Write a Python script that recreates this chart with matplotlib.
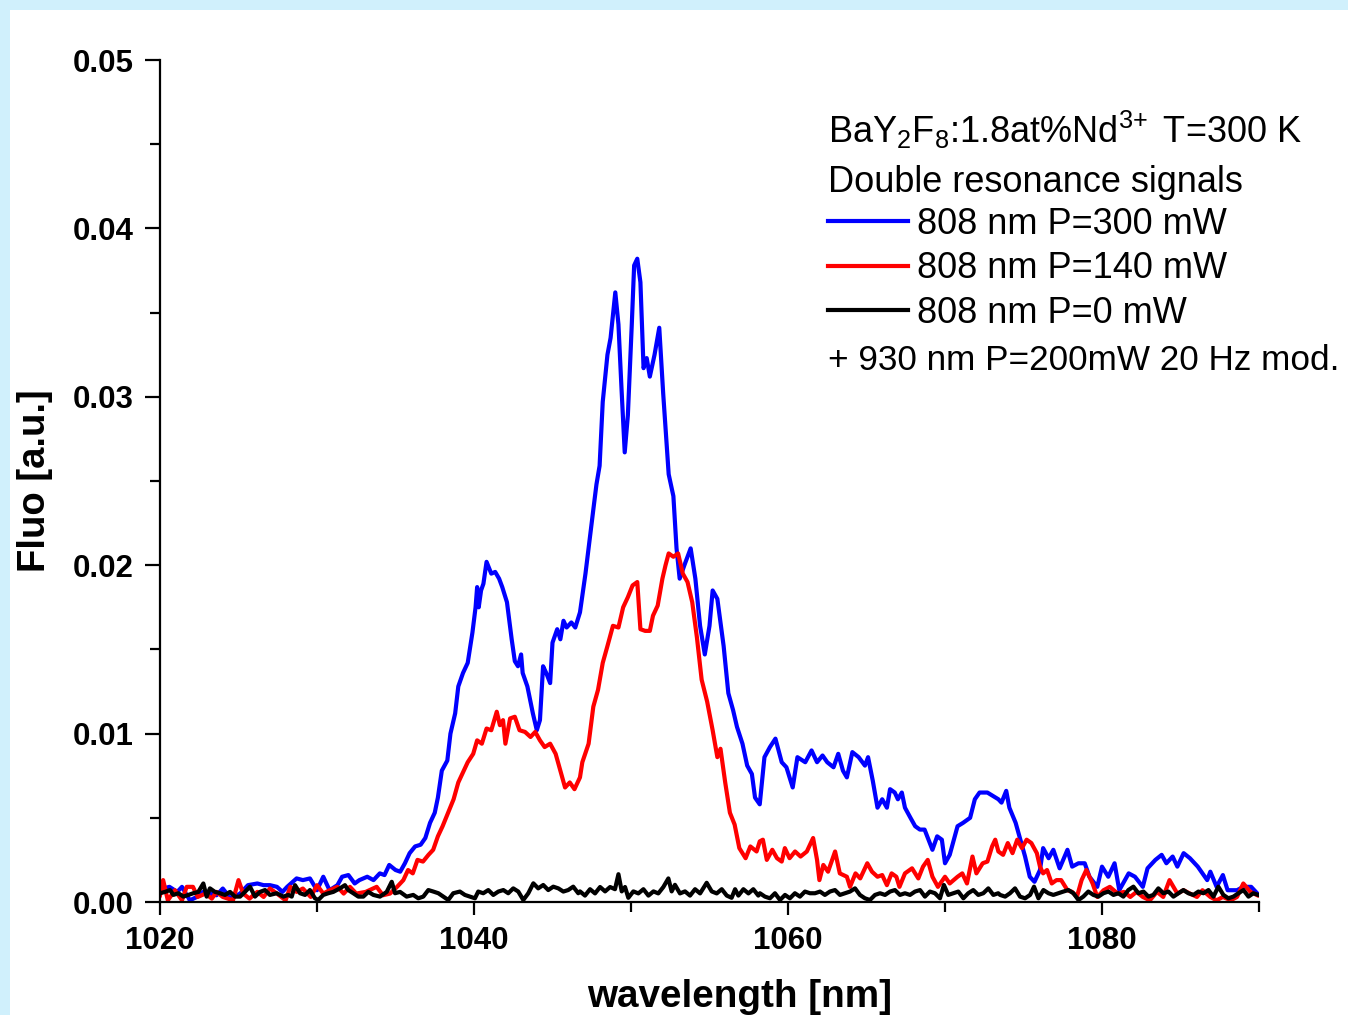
import numpy as np
import matplotlib.pyplot as plt
from matplotlib.patches import Rectangle
from matplotlib.ticker import MultipleLocator

plt.rcParams['font.family'] = ['Liberation Sans', 'DejaVu Sans']
plt.rcParams['mathtext.fontset'] = 'custom'
plt.rcParams['mathtext.rm'] = 'Liberation Sans'
plt.rcParams['mathtext.it'] = 'Liberation Sans:italic'
plt.rcParams['mathtext.bf'] = 'Liberation Sans:bold'

# fluorescence spectra, wavelength in nm, signal in units of 1e-3 a.u.
wl_300 = [1020.0, 1020.2, 1020.6, 1021.1, 1021.4, 1021.9, 1022.35, 1022.75, 1023.2, 1023.6,
          1024.0, 1024.5, 1025.1, 1025.6, 1026.2, 1026.6, 1027.0, 1027.45, 1027.8, 1028.1,
          1028.7, 1029.1, 1029.55, 1030.0, 1030.4, 1030.8, 1031.3, 1031.6, 1032.0, 1032.4,
          1032.7, 1033.2, 1033.6, 1034.0, 1034.3, 1034.6, 1035.0, 1035.3, 1035.6, 1035.9,
          1036.25, 1036.6, 1036.9, 1037.2, 1037.5, 1037.7, 1037.95, 1038.3, 1038.5, 1038.8,
          1039.0, 1039.3, 1039.6, 1039.9, 1040.1, 1040.2, 1040.3, 1040.45, 1040.6, 1040.8,
          1041.1, 1041.35, 1041.6, 1041.8, 1042.1, 1042.4, 1042.6, 1042.8, 1043.0, 1043.1,
          1043.4, 1043.75, 1044.0, 1044.2, 1044.4, 1044.6, 1044.85, 1045.0, 1045.3, 1045.5,
          1045.7, 1045.9, 1046.2, 1046.45, 1046.75, 1047.1, 1047.4, 1047.6, 1047.8, 1048.0,
          1048.2, 1048.5, 1048.7, 1049.0, 1049.2, 1049.4, 1049.6, 1049.8, 1050.05, 1050.2,
          1050.4, 1050.6, 1050.8, 1051.0, 1051.2, 1051.5, 1051.8, 1052.05, 1052.4, 1052.7,
          1052.9, 1053.1, 1053.4, 1053.8, 1054.1, 1054.4, 1054.7, 1055.0, 1055.2, 1055.5,
          1055.9, 1056.2, 1056.5, 1056.75, 1057.1, 1057.4, 1057.7, 1057.9, 1058.2, 1058.5,
          1058.85, 1059.2, 1059.6, 1059.9, 1060.3, 1060.6, 1061.1, 1061.5, 1061.85, 1062.2,
          1062.5, 1062.9, 1063.2, 1063.5, 1063.75, 1064.1, 1064.5, 1064.9, 1065.1, 1065.4,
          1065.7, 1066.0, 1066.3, 1066.5, 1066.8, 1067.0, 1067.25, 1067.45, 1067.8, 1068.1,
          1068.4, 1068.7, 1069.2, 1069.5, 1069.8, 1070.0, 1070.3, 1070.8, 1071.15, 1071.6,
          1071.9, 1072.2, 1072.7, 1073.05, 1073.4, 1073.6, 1073.9, 1074.1, 1074.5, 1074.8,
          1075.1, 1075.4, 1075.7, 1076.05, 1076.25, 1076.6, 1076.9, 1077.3, 1077.8, 1078.1,
          1078.5, 1078.9, 1079.2, 1079.7, 1080.0, 1080.4, 1080.8, 1081.1, 1081.7, 1082.1,
          1082.6, 1082.9, 1083.4, 1083.8, 1084.1, 1084.5, 1084.8, 1085.2, 1085.6, 1086.1,
          1086.7, 1086.9, 1087.3, 1087.7, 1088.0, 1088.6, 1089.0, 1089.5, 1089.9]
fluo_300 = [0.6, 0.8, 0.9, 0.6, 0.9, 0.1, 0.3, 0.6, 0.5, 0.4,
            0.8, 0.2, 0.5, 1.0, 1.1, 1.0, 1.0, 0.9, 0.6, 0.9,
            1.4, 1.3, 1.4, 0.7, 1.5, 0.7, 1.0, 1.5, 1.6, 1.1,
            1.3, 1.5, 1.3, 1.7, 1.6, 2.2, 1.9, 1.8, 2.3, 2.9,
            3.3, 3.4, 3.8, 4.7, 5.3, 6.2, 7.8, 8.4, 10.0, 11.2,
            12.8, 13.6, 14.2, 16.0, 17.5, 18.7, 17.5, 18.5, 18.9, 20.2,
            19.5, 19.6, 19.2, 18.7, 17.8, 15.6, 14.3, 14.0, 14.7, 13.6,
            12.8, 11.2, 10.2, 10.8, 14.0, 13.6, 13.0, 15.4, 16.2, 15.6,
            16.7, 16.3, 16.6, 16.3, 17.2, 19.5, 21.8, 23.3, 24.8, 25.9,
            29.7, 32.5, 33.5, 36.2, 34.3, 30.4, 26.7, 28.9, 34.3, 37.8,
            38.2, 36.8, 31.7, 32.3, 31.2, 32.5, 34.1, 30.2, 25.4, 24.1,
            21.0, 19.2, 20.0, 21.0, 19.2, 16.4, 14.7, 16.4, 18.5, 18.0,
            15.2, 12.4, 11.4, 10.4, 9.4, 8.1, 7.6, 6.2, 5.8, 8.6,
            9.2, 9.7, 8.3, 8.0, 6.8, 8.6, 8.3, 9.0, 8.3, 8.7,
            8.3, 8.0, 8.8, 7.8, 7.4, 8.9, 8.6, 8.1, 8.6, 7.2,
            5.6, 6.1, 5.6, 6.7, 6.5, 6.1, 6.5, 5.6, 5.0, 4.5,
            4.3, 4.3, 3.1, 3.9, 3.7, 2.3, 2.8, 4.5, 4.7, 5.0,
            6.1, 6.5, 6.5, 6.3, 6.1, 5.9, 6.6, 5.6, 4.7, 3.7,
            2.7, 1.5, 1.2, 1.9, 3.2, 2.6, 3.1, 2.0, 3.1, 2.1,
            2.3, 2.3, 1.5, 0.9, 2.1, 1.5, 2.3, 0.7, 1.7, 1.5,
            0.9, 2.0, 2.5, 2.8, 2.3, 2.7, 2.1, 2.9, 2.6, 2.1,
            1.3, 1.8, 0.9, 1.6, 0.7, 0.7, 0.9, 0.9, 0.5]

wl_140 = [1020.0, 1020.2, 1020.5, 1020.95, 1021.4, 1021.7, 1022.1, 1022.4, 1022.9, 1023.3,
          1023.6, 1024.0, 1024.65, 1025.0, 1025.3, 1025.7, 1026.2, 1026.6, 1027.0, 1027.45,
          1028.0, 1028.3, 1028.7, 1029.1, 1029.6, 1030.0, 1030.4, 1030.8, 1031.3, 1031.7,
          1032.1, 1032.5, 1033.1, 1033.8, 1034.2, 1034.65, 1035.1, 1035.5, 1035.8, 1036.1,
          1036.4, 1036.75, 1037.1, 1037.4, 1037.7, 1038.0, 1038.35, 1038.7, 1039.0, 1039.3,
          1039.6, 1039.95, 1040.2, 1040.5, 1040.8, 1041.1, 1041.45, 1041.65, 1041.85, 1042.0,
          1042.3, 1042.6, 1042.9, 1043.25, 1043.6, 1043.9, 1044.2, 1044.5, 1044.85, 1045.2,
          1045.5, 1045.8, 1046.1, 1046.4, 1046.75, 1046.9, 1047.3, 1047.6, 1047.9, 1048.2,
          1048.5, 1048.85, 1049.2, 1049.5, 1049.8, 1050.1, 1050.4, 1050.6, 1050.9, 1051.2,
          1051.4, 1051.7, 1052.0, 1052.2, 1052.4, 1052.7, 1053.0, 1053.3, 1053.6, 1053.9,
          1054.2, 1054.5, 1054.85, 1055.2, 1055.5, 1055.7, 1056.0, 1056.3, 1056.6, 1056.9,
          1057.3, 1057.6, 1058.0, 1058.2, 1058.4, 1058.65, 1059.0, 1059.3, 1059.6, 1059.8,
          1060.1, 1060.45, 1060.8, 1061.2, 1061.6, 1061.85, 1062.0, 1062.25, 1062.55, 1063.0,
          1063.3, 1063.75, 1063.95, 1064.3, 1064.6, 1065.05, 1065.35, 1065.7, 1066.0, 1066.3,
          1066.6, 1066.9, 1067.1, 1067.45, 1067.9, 1068.3, 1068.6, 1068.9, 1069.2, 1069.55,
          1070.0, 1070.3, 1070.8, 1071.1, 1071.4, 1071.75, 1072.0, 1072.4, 1072.7, 1073.0,
          1073.2, 1073.4, 1073.7, 1074.0, 1074.3, 1074.6, 1074.9, 1075.2, 1075.5, 1075.85,
          1076.05, 1076.25, 1076.5, 1076.8, 1077.1, 1077.4, 1077.8, 1078.1, 1078.4, 1078.7,
          1079.0, 1079.4, 1079.7, 1080.1, 1080.5, 1081.0, 1081.4, 1081.8, 1082.2, 1082.6,
          1083.05, 1083.5, 1083.9, 1084.3, 1084.8, 1085.2, 1085.6, 1086.05, 1086.4, 1086.9,
          1087.3, 1087.7, 1088.2, 1088.6, 1089.0, 1089.45, 1089.9]
fluo_140 = [0.4, 1.3, 0.1, 0.7, 0.1, 0.9, 0.9, 0.3, 0.5, 0.2,
            0.6, 0.3, 0.1, 1.3, 0.5, 0.2, 0.6, 0.3, 0.8, 0.5,
            0.1, 0.9, 0.6, 0.8, 0.3, 1.0, 0.5, 0.7, 0.9, 0.5,
            0.9, 0.5, 0.6, 0.9, 0.4, 0.5, 0.9, 1.3, 1.9, 1.7,
            2.5, 2.4, 2.8, 3.1, 3.9, 4.5, 5.3, 6.1, 7.1, 7.7,
            8.3, 8.8, 9.6, 9.4, 10.3, 10.2, 11.3, 10.5, 10.8, 9.4,
            10.9, 11.0, 10.2, 10.1, 9.8, 10.1, 9.6, 9.2, 9.4, 8.8,
            7.8, 6.8, 7.1, 6.7, 7.4, 8.3, 9.4, 11.6, 12.6, 14.2,
            15.2, 16.4, 16.3, 17.5, 18.1, 18.8, 19.0, 16.2, 16.1, 16.1,
            17.0, 17.6, 19.2, 20.0, 20.7, 20.5, 20.7, 19.5, 19.0, 17.8,
            15.7, 13.2, 11.9, 10.2, 8.6, 9.1, 7.1, 5.3, 4.6, 3.2,
            2.6, 3.3, 3.0, 3.6, 3.7, 2.5, 3.1, 2.6, 2.4, 3.2,
            2.6, 3.0, 2.7, 3.0, 3.8, 2.5, 1.3, 2.2, 1.8, 3.0,
            1.7, 1.5, 0.9, 1.7, 1.4, 2.3, 1.8, 1.5, 1.6, 1.0,
            1.7, 1.5, 0.9, 1.7, 2.0, 1.4, 2.1, 2.5, 1.5, 0.9,
            1.5, 1.1, 1.5, 1.7, 1.1, 2.7, 1.7, 2.3, 2.4, 3.3,
            3.7, 3.0, 2.8, 3.5, 2.9, 3.7, 3.2, 3.7, 3.5, 2.9,
            2.1, 1.7, 1.9, 1.1, 1.3, 1.3, 0.7, 0.6, 0.3, 1.3,
            1.9, 1.1, 0.3, 0.7, 0.9, 0.5, 0.6, 0.3, 0.6, 0.3,
            0.1, 0.6, 0.3, 1.3, 0.5, 0.7, 0.5, 0.3, 0.7, 0.3,
            0.1, 0.3, 0.1, 0.3, 1.1, 0.6, 0.4]

wl_0 = [1020.0, 1020.32, 1020.64, 1020.85, 1021.17, 1021.49, 1021.8, 1022.12, 1022.44, 1022.76,
        1022.97, 1023.18, 1023.5, 1023.82, 1024.14, 1024.46, 1024.78, 1025.1, 1025.41, 1025.73,
        1026.05, 1026.37, 1026.69, 1027.0, 1027.43, 1027.86, 1028.17, 1028.39, 1028.6, 1028.92,
        1029.24, 1029.55, 1029.87, 1030.08, 1030.4, 1030.72, 1031.04, 1031.46, 1031.78, 1031.99,
        1032.31, 1032.63, 1032.95, 1033.27, 1033.59, 1034.01, 1034.44, 1034.76, 1034.97, 1035.29,
        1035.71, 1036.13, 1036.45, 1036.77, 1037.09, 1037.41, 1037.73, 1038.04, 1038.36, 1038.68,
        1039.1, 1039.42, 1039.74, 1040.06, 1040.27, 1040.59, 1040.91, 1041.23, 1041.55, 1041.87,
        1042.18, 1042.5, 1042.82, 1043.14, 1043.46, 1043.78, 1044.09, 1044.41, 1044.73, 1045.05,
        1045.37, 1045.69, 1046.0, 1046.32, 1046.64, 1046.75, 1047.07, 1047.39, 1047.71, 1048.03,
        1048.35, 1048.67, 1048.98, 1049.2, 1049.41, 1049.62, 1049.83, 1050.15, 1050.47, 1050.79,
        1051.11, 1051.43, 1051.74, 1052.06, 1052.38, 1052.59, 1052.8, 1053.12, 1053.44, 1053.76,
        1054.08, 1054.4, 1054.82, 1055.14, 1055.46, 1055.78, 1056.1, 1056.41, 1056.63, 1056.84,
        1057.16, 1057.48, 1057.79, 1058.11, 1058.21, 1058.53, 1058.85, 1059.17, 1059.49, 1059.81,
        1060.12, 1060.44, 1060.76, 1061.08, 1061.4, 1061.72, 1062.04, 1062.35, 1062.67, 1062.99,
        1063.31, 1063.63, 1063.95, 1064.27, 1064.58, 1064.9, 1065.22, 1065.54, 1065.86, 1066.18,
        1066.5, 1066.81, 1067.13, 1067.45, 1067.77, 1068.09, 1068.41, 1068.72, 1069.04, 1069.36,
        1069.68, 1069.93, 1070.21, 1070.53, 1070.85, 1071.17, 1071.48, 1071.8, 1072.12, 1072.44,
        1072.76, 1073.08, 1073.39, 1073.51, 1073.83, 1074.14, 1074.46, 1074.78, 1075.1, 1075.42,
        1075.67, 1075.95, 1076.27, 1076.59, 1076.9, 1077.22, 1077.54, 1077.86, 1078.18, 1078.5,
        1078.81, 1079.13, 1079.45, 1079.77, 1080.09, 1080.41, 1080.73, 1081.04, 1081.36, 1081.68,
        1082.0, 1082.32, 1082.64, 1082.96, 1083.27, 1083.59, 1083.91, 1084.23, 1084.55, 1084.87,
        1085.18, 1085.5, 1085.82, 1086.14, 1086.46, 1086.78, 1087.1, 1087.41, 1087.73, 1088.05,
        1088.37, 1088.69, 1089.01, 1089.33, 1089.64, 1089.96]
fluo_0 = [0.52, 0.6, 0.71, 0.42, 0.52, 0.32, 0.42, 0.52, 0.6, 1.1,
          0.32, 0.81, 0.6, 0.52, 0.42, 0.6, 0.32, 0.32, 0.6, 0.91,
          0.32, 0.6, 0.71, 0.42, 0.52, 0.32, 0.42, 0.32, 1.0, 0.52,
          0.42, 0.71, 0.22, 0.12, 0.42, 0.52, 0.6, 0.81, 1.0, 0.71,
          0.52, 0.32, 0.32, 0.6, 0.42, 0.32, 0.6, 1.2, 0.52, 0.6,
          0.32, 0.42, 0.22, 0.32, 0.71, 0.62, 0.52, 0.32, 0.12, 0.52,
          0.62, 0.42, 0.32, 0.22, 0.62, 0.52, 0.71, 0.42, 0.62, 0.71,
          0.52, 0.81, 0.62, 0.12, 0.52, 1.11, 0.81, 1.01, 0.71, 0.91,
          0.81, 0.62, 0.71, 0.91, 0.52, 0.63, 0.38, 0.76, 0.51, 0.89,
          0.63, 0.89, 0.76, 1.65, 0.63, 0.89, 0.25, 0.63, 0.51, 0.76,
          0.38, 0.63, 0.51, 0.89, 1.4, 0.63, 1.02, 0.51, 0.63, 0.38,
          0.76, 0.51, 1.14, 0.63, 0.51, 0.76, 0.38, 0.25, 0.76, 0.38,
          0.76, 0.51, 0.76, 0.38, 0.52, 0.32, 0.22, 0.52, 0.12, 0.42,
          0.22, 0.52, 0.32, 0.62, 0.52, 0.52, 0.62, 0.42, 0.62, 0.71,
          0.42, 0.52, 0.62, 0.81, 0.42, 0.22, 0.12, 0.42, 0.52, 0.42,
          0.62, 0.71, 0.42, 0.52, 0.42, 0.62, 0.71, 0.32, 0.62, 0.52,
          0.22, 1.01, 0.42, 0.52, 0.62, 0.22, 0.52, 0.71, 0.42, 0.52,
          0.81, 0.42, 0.52, 0.42, 0.32, 0.52, 0.81, 0.32, 0.22, 0.42,
          0.91, 0.22, 0.71, 0.52, 0.42, 0.52, 0.62, 0.71, 0.52, 0.12,
          0.32, 0.62, 0.42, 0.32, 0.52, 0.62, 0.42, 0.52, 0.32, 0.71,
          0.91, 0.52, 0.62, 0.32, 0.42, 0.81, 0.52, 0.62, 0.32, 0.52,
          0.71, 0.52, 0.42, 0.62, 0.52, 0.71, 0.32, 0.91, 0.42, 0.22,
          0.32, 0.52, 0.71, 0.32, 0.52, 0.42]

series = [
    (wl_300, fluo_300, '#0000ff', '808 nm P=300 mW'),
    (wl_140, fluo_140, '#ff0000', '808 nm P=140 mW'),
    (wl_0, fluo_0, '#000000', '808 nm P=0 mW'),
]

fig = plt.figure(figsize=(13.48, 10.15), dpi=100, facecolor='#d0f0fc')
# white panel inside the light blue frame
fig.patches.append(Rectangle((10 / 1348, 0), 1, 1 - 10 / 1015, transform=fig.transFigure,
                             facecolor='white', edgecolor='none', zorder=-10))
ax = fig.add_axes([160 / 1348, 1 - 902 / 1015, 1099 / 1348, 842 / 1015])
ax.set_facecolor('none')

for wl, fl, col, lab in series:
    ax.plot(wl, np.array(fl) * 1e-3, color=col, lw=3.0, label=lab)

ax.set_xlim(1020, 1090)
ax.set_ylim(0, 0.05)
ax.xaxis.set_major_locator(MultipleLocator(20))
ax.xaxis.set_minor_locator(MultipleLocator(10))
ax.yaxis.set_major_locator(MultipleLocator(0.01))
ax.yaxis.set_minor_locator(MultipleLocator(0.005))
ax.yaxis.set_major_formatter(plt.FormatStrFormatter('%.2f'))

for s in ['top', 'right']:
    ax.spines[s].set_visible(False)
for s in ['left', 'bottom']:
    ax.spines[s].set_linewidth(1.6)

ax.tick_params(axis='both', which='both', direction='out', width=1.6)
ax.tick_params(axis='y', which='major', length=11, pad=8)
ax.tick_params(axis='y', which='minor', length=7)
ax.tick_params(axis='x', which='major', length=9, pad=8)
ax.tick_params(axis='x', which='minor', length=7)
for lbl in ax.get_xticklabels() + ax.get_yticklabels():
    lbl.set_fontsize(22.5)
    lbl.set_fontweight('bold')

ax.set_xlabel('wavelength [nm]', fontsize=27.8, fontweight='bold')
ax.xaxis.set_label_coords(0.527, -0.091)
ax.set_ylabel('Fluo [a.u.]', fontsize=27.5, fontweight='bold', labelpad=14)

ax.text(0.608, 0.901, 'BaY$_2$F$_8$:1.8at%Nd$^{3\\!+}$ T=300 K',
        transform=ax.transAxes, fontsize=26, ha='left', va='baseline')
ax.text(0.608, 0.843, 'Double resonance signals',
        transform=ax.transAxes, fontsize=26, ha='left', va='baseline')
ax.text(0.608, 0.632, '+ 930 nm P=200mW 20 Hz mod.',
        transform=ax.transAxes, fontsize=25.3, ha='left', va='baseline')
ax.legend(loc='upper left', bbox_to_anchor=(0.608, 0.826), frameon=False, fontsize=26,
          borderpad=0, borderaxespad=0, handlelength=2.2, handletextpad=0.27,
          labelspacing=0.27)

fig.savefig('out.png', dpi=100, facecolor=fig.get_facecolor())
